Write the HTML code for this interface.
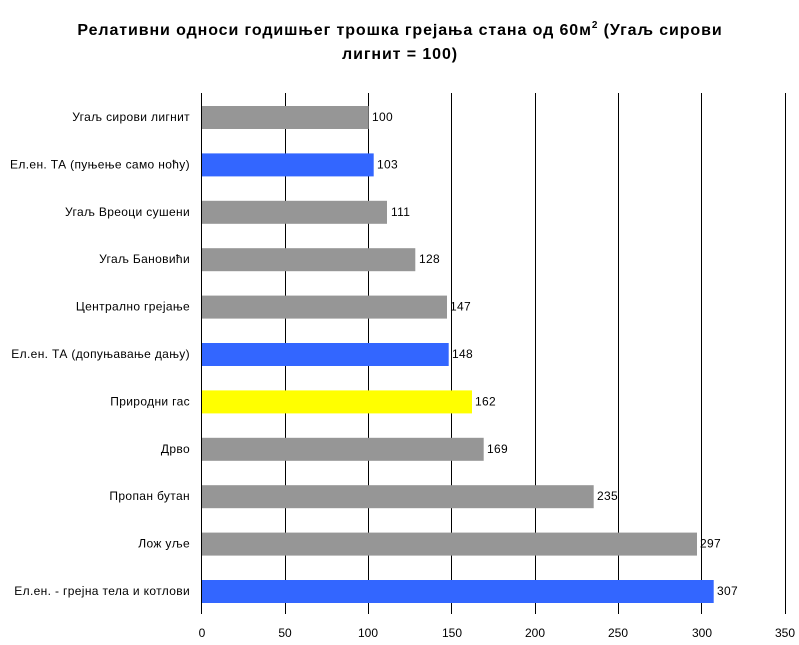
<!DOCTYPE html><html><head><meta charset="utf-8"><style>body{margin:0;background:#fff}svg{display:block}text{font-family:"Liberation Sans",sans-serif}</style></head><body>
<svg width="799" height="645" xmlns="http://www.w3.org/2000/svg">
<text x="400" y="35" text-anchor="middle" font-size="16" font-weight="bold" letter-spacing="0.9">Релативни односи годишњег трошка грејања стана од 60м<tspan dy="-7" font-size="10">2</tspan><tspan dy="7"> (Угаљ сирови</tspan></text>
<text x="400" y="59" text-anchor="middle" font-size="16" font-weight="bold" letter-spacing="0.9">лигнит = 100)</text>
<g stroke="#000" stroke-width="1">
<line x1="201.5" y1="93" x2="201.5" y2="614"/><line x1="285.5" y1="93" x2="285.5" y2="614"/><line x1="368.5" y1="93" x2="368.5" y2="614"/><line x1="451.5" y1="93" x2="451.5" y2="614"/><line x1="535.5" y1="93" x2="535.5" y2="614"/><line x1="618.5" y1="93" x2="618.5" y2="614"/><line x1="701.5" y1="93" x2="701.5" y2="614"/><line x1="785.5" y1="93" x2="785.5" y2="614"/>
</g>
<g font-size="12" text-anchor="middle">
<text x="202" y="637">0</text><text x="285" y="637">50</text><text x="368" y="637">100</text><text x="452" y="637">150</text><text x="535" y="637">200</text><text x="618" y="637">250</text><text x="702" y="637">300</text><text x="785" y="637">350</text>
</g>
<g font-size="12" letter-spacing="0.35">
<rect x="202" y="106" width="166.7" height="23" fill="#969696"/><text x="372" y="121">100</text><text x="190" y="121" text-anchor="end">Угаљ сирови лигнит</text>
<rect x="202" y="153.4" width="171.7" height="23" fill="#3366ff"/><text x="377" y="168.4">103</text><text x="190" y="168.4" text-anchor="end">Ел.ен. ТА (пуњење само ноћу)</text>
<rect x="202" y="200.8" width="185" height="23" fill="#969696"/><text x="391" y="215.8">111</text><text x="190" y="215.8" text-anchor="end">Угаљ Вреоци сушени</text>
<rect x="202" y="248.2" width="213.3" height="23" fill="#969696"/><text x="419" y="263.2">128</text><text x="190" y="263.2" text-anchor="end">Угаљ Бановићи</text>
<rect x="202" y="295.6" width="245" height="23" fill="#969696"/><text x="450" y="310.6">147</text><text x="190" y="310.6" text-anchor="end">Централно грејање</text>
<rect x="202" y="343" width="246.7" height="23" fill="#3366ff"/><text x="452" y="358">148</text><text x="190" y="358" text-anchor="end">Ел.ен. ТА (допуњавање дању)</text>
<rect x="202" y="390.4" width="270" height="23" fill="#ffff00"/><text x="475" y="405.4">162</text><text x="190" y="405.4" text-anchor="end">Природни гас</text>
<rect x="202" y="437.8" width="281.7" height="23" fill="#969696"/><text x="487" y="452.8">169</text><text x="190" y="452.8" text-anchor="end">Дрво</text>
<rect x="202" y="485.2" width="391.7" height="23" fill="#969696"/><text x="597" y="500.2">235</text><text x="190" y="500.2" text-anchor="end">Пропан бутан</text>
<rect x="202" y="532.6" width="495" height="23" fill="#969696"/><text x="700" y="547.6">297</text><text x="190" y="547.6" text-anchor="end">Лож уље</text>
<rect x="202" y="580" width="511.7" height="23" fill="#3366ff"/><text x="717" y="595">307</text><text x="190" y="595" text-anchor="end">Ел.ен. - грејна тела и котлови</text>
</g>
</svg></body></html>
